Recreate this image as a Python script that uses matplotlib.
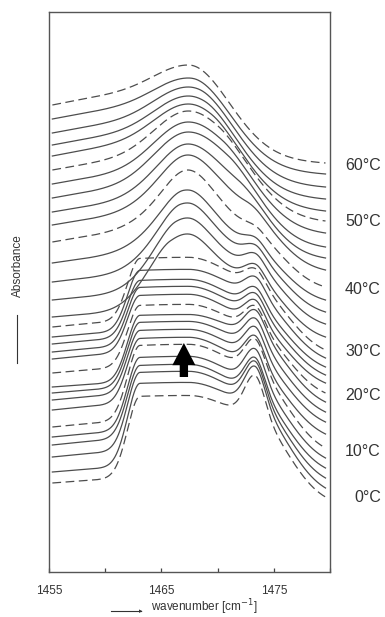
import numpy as np
import matplotlib.pyplot as plt

plt.rcParams['font.family'] = ['Liberation Sans', 'DejaVu Sans']

# one spectrum every 2 degC, dashed every 10 degC
temps = list(range(0, 62, 2))

# vertical position (plot units, 0 = bottom of frame)
# at the left end (~1455 cm-1), the right end (~1480 cm-1) and the band top
left_end = [89, 100, 115, 127, 135, 145, 162, 172, 179, 185, 199, 213, 220, 228, 235, 245,
            255, 272, 290, 309, 330, 347, 360, 374, 388, 402, 416, 427, 439, 453, 467]
right_end = [75, 84, 94, 104, 114, 124, 138, 150, 160, 170, 179, 189, 197, 205, 214, 222,
             235, 248, 260, 272, 285, 302, 314, 325, 339, 351, 361, 373, 385, 398, 409]
band_top = [176, 189, 200, 207, 215, 227, 234, 242, 250, 257, 267, 277, 285, 292, 302, 314,
            338, 354, 369, 382, 402, 417, 428, 440, 450, 461, 468, 476, 485, 494, 507]

# shape of the main CH2 band: low / high edge (cm-1) and their widths
edge_low = [1463.1] * 16 + [1465.8, 1466.3, 1466.7, 1467.0] + [1467.4] * 11
width_low = [1.1] * 16 + [2.3, 2.5, 2.7, 2.9] + [3.0] * 11
edge_high = [1473.3] * 21 + [1472.5, 1471.6, 1470.9, 1470.4, 1470.0, 1469.4, 1468.8,
                             1468.3, 1467.8, 1467.4]
width_high = [3.0] * 16 + [2.8, 2.8, 2.8, 2.8, 2.8, 2.9, 3.0, 3.2, 3.4, 3.5, 3.6, 3.6,
                           3.7, 3.7, 3.7]
# share of the ~1467 cm-1 hump and height of the sharp ~1473 cm-1 peak
hump_share = [0.0] * 16 + [0.3, 0.32, 0.33, 0.33, 0.3, 0.2, 0.1] + [0.0] * 8
sharp_height = [41, 39, 37, 35, 34, 32, 30, 29, 27, 25, 23, 22, 20, 19, 18, 16,
                15, 14, 12, 10, 6, 3, 1] + [0] * 8

label_temps = ['60°C', '50°C', '40°C', '30°C', '20°C', '10°C', '0°C']
label_pos = [407, 351, 283, 220, 177, 120, 75]

nu = np.linspace(1455.3, 1479.6, 700)


def wing(x):
    d = x - 1467.4
    right = 0.85 * np.exp(-0.5 * (d / 3.5) ** 2) + 0.15 * np.exp(-0.5 * (d / 7.0) ** 2)
    return np.where(d < 0, np.exp(-0.5 * (d / 18.0) ** 2), right)


def main_band(x, a, sl, b, sr, share):
    flat = np.ones_like(x)
    flat = np.where(x < a, np.exp(-0.5 * ((x - a) / sl) ** 2), flat)
    flat = np.where(x > b, np.exp(-0.5 * ((x - b) / sr) ** 2), flat)
    hump = np.exp(-0.5 * ((x - 1467.3) / 1.8) ** 2)
    return (1 - share) * flat + share * hump


def sharp(x):
    d = x - 1473.3
    return np.exp(-0.5 * (d / np.where(d < 0, 0.9, 0.85)) ** 2)


fig = plt.figure(figsize=(3.85, 6.17), dpi=100)
ax = fig.add_axes([49 / 385, 45 / 617, 281 / 385, 560 / 617])

for i, t in enumerate(temps):
    p = (edge_low[i], width_low[i], edge_high[i], width_high[i], hump_share[i])
    x_ref = np.array([1455.3, 1479.6, 1464.0 if t <= 30 else 1467.4])
    target = np.array([left_end[i], right_end[i], band_top[i]]) - sharp_height[i] * sharp(x_ref)
    m = np.column_stack([np.ones(3), wing(x_ref), main_band(x_ref, *p)])
    base, w, amp = np.linalg.solve(m, target)
    y = base + w * wing(nu) + amp * main_band(nu, *p) + sharp_height[i] * sharp(nu)
    ls = (0, (7, 3.6)) if t % 10 == 0 else '-'
    ax.plot(nu, y, color='#4d4d4d', lw=0.9, ls=ls)

ax.set_xlim(1455, 1480)
ax.set_ylim(0, 560)
ax.set_xticks([1455, 1460, 1465, 1470, 1475, 1480])
ax.set_xticklabels(['1455', '', '1465', '', '1475', ''])
ax.tick_params(axis='x', direction='in', length=3, width=0.9, color='#444',
               labelsize=8.5, labelcolor='#333', pad=9)
ax.set_yticks([])
for s in ax.spines.values():
    s.set_color('#555')
    s.set_linewidth(1.0)

for lab, yv in zip(label_temps, label_pos):
    ax.text(1.181, yv, lab, transform=ax.get_yaxis_transform(), ha='right', va='center',
            fontsize=11.5, color='#333')

# black arrow in the middle of the stack
ax.annotate('', xy=(1467.0, 229), xytext=(1467.0, 195),
            arrowprops=dict(arrowstyle='simple,head_length=1.6,head_width=1.66,tail_width=0.6',
                            fc='black', ec='none', mutation_scale=10, shrinkA=0, shrinkB=0))

fig.text(151 / 385, 1 - 611.5 / 617, 'wavenumber [cm$^{-1}$]', ha='left', va='baseline',
         fontsize=8.5, color='#333')
fig.add_artist(plt.Line2D([111 / 385, 141 / 385], [1 - 611 / 617, 1 - 611 / 617],
                          color='#333', lw=0.8, transform=fig.transFigure))
fig.text(141 / 385, 1 - 611 / 617, '\u25B8', ha='center', va='center', fontsize=5,
         color='#333', family=['DejaVu Sans'])
fig.text(18 / 385, 1 - 266 / 617, 'Absorbance', rotation=90, ha='center', va='center',
         fontsize=8.5, color='#333')
fig.add_artist(plt.Line2D([17 / 385, 17 / 385], [1 - 315 / 617, 1 - 363 / 617],
                          color='#333', lw=0.8, transform=fig.transFigure))

fig.savefig('out.png', dpi=100)
